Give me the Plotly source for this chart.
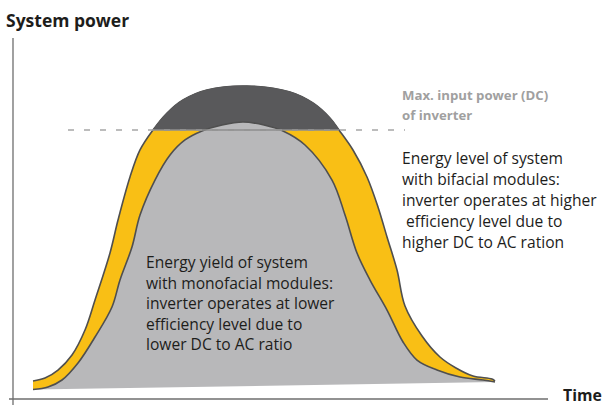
import plotly.graph_objects as go

# ---- data (time and power in % of the plot box) ----
bif_time = [3.74, 5.98, 8.41, 11.03, 13.46, 15.33, 18.13, 19.63, 21.87, 23.74, 26.17,
            28.79, 31.78, 36.26, 43.74, 51.78, 56.07, 59.25, 60.93, 63.55, 66.17,
            68.22, 69.91, 71.78, 73.27, 76.45, 79.81, 82.80, 85.98, 89.53, 90.09]
bif_power = [4.99, 5.82, 8.03, 12.19, 19.11, 27.42, 40.44, 49.58, 61.50, 68.98, 74.52,
             79.22, 82.83, 85.60, 86.70, 85.04, 81.99, 77.84, 74.52, 68.98, 61.50,
             53.19, 44.88, 35.73, 25.76, 17.45, 11.63, 8.59, 6.37, 5.54, 4.99]

mono_time = [3.74, 6.54, 9.16, 12.15, 15.33, 18.50, 20.00, 22.24, 23.74, 26.54, 29.35,
             32.15, 35.33, 39.07, 42.99, 46.92, 50.47, 54.58, 59.63, 62.06, 64.30,
             66.73, 69.91, 72.90, 75.51, 79.25, 83.55, 87.85, 90.09]
mono_power = [2.63, 3.32, 5.26, 9.97, 17.17, 25.48, 32.96, 42.11, 50.97, 60.66, 67.59,
              71.75, 74.24, 75.90, 76.73, 75.90, 74.24, 70.36, 60.66, 50.97, 40.44,
              32.96, 24.65, 15.79, 10.80, 8.03, 6.09, 5.26, 4.71]

base_time = [3.74, 90.09]
base_power = [2.63, 4.71]

max_dc_power = 74.52
max_dc_time = [10.28, 73.27]      # extent of the dashed line
max_dc_inside = [26.17, 60.93]    # where it crosses the bifacial curve

# ---- styles ----
YELLOW = "#f9bf15"
GRAY = "#b8b8ba"
DARK = "#59595b"
OUTLINE = "#4f4f4f"
DASH = "#a6a6a6"
TEXT = "#1d1d1b"
FONT = "Open Sans"

cap_time = [t for t, p in zip(bif_time, bif_power) if p >= max_dc_power]
cap_power = [p for p in bif_power if p >= max_dc_power]

spl = dict(shape="spline", smoothing=1)
fig = go.Figure()
# invisible monofacial curve: lower edge of the yellow band
fig.add_trace(go.Scatter(x=mono_time, y=mono_power, mode="lines",
                         line=dict(width=0, **spl), hoverinfo="skip"))
fig.add_trace(go.Scatter(x=bif_time, y=bif_power, mode="lines", fill="tonexty",
                         fillcolor=YELLOW, line=dict(color=OUTLINE, width=1.6, **spl),
                         hoverinfo="skip"))
fig.add_trace(go.Scatter(x=cap_time, y=cap_power, mode="lines", fill="toself",
                         fillcolor=DARK, line=dict(color=DARK, width=1, **spl),
                         hoverinfo="skip"))
fig.add_trace(go.Scatter(x=base_time, y=base_power, mode="lines",
                         line=dict(width=0), hoverinfo="skip"))
fig.add_trace(go.Scatter(x=mono_time, y=mono_power, mode="lines", fill="tonexty",
                         fillcolor=GRAY, line=dict(color=OUTLINE, width=1.6, **spl),
                         hoverinfo="skip"))
fig.add_trace(go.Scatter(x=max_dc_time, y=[max_dc_power] * 2, mode="lines",
                         line=dict(color=DASH, width=1.5, dash="6px,10px"), hoverinfo="skip"))
fig.add_trace(go.Scatter(x=max_dc_inside, y=[max_dc_power] * 2, mode="lines",
                         line=dict(color="#8e8e8e", width=1.5), hoverinfo="skip"))

# plot box in pixels: left 13, top 38, width 535, height 361
L, T, W, H = 13, 38, 535, 361
def px(x):
    return (x - L) / W
def py(y):
    return (T + H - y) / H

shapes = [
    dict(type="line", xref="paper", yref="paper", x0=px(13), x1=px(13), y0=py(405), y1=py(38),
         line=dict(color="#6e6e6e", width=1.3)),
    dict(type="line", xref="paper", yref="paper", x0=px(9), x1=px(548), y0=py(399), y1=py(399),
         line=dict(color="#6e6e6e", width=1.3)),
]

annotations = []
def add_text(text, x, y, size=15.6, color=TEXT, weight=400):
    annotations.append(dict(text=text, x=px(x), y=py(y),
                            xref="paper", yref="paper", xanchor="left", yanchor="middle",
                            showarrow=False,
                            font=dict(family=FONT, size=size, color=color, weight=weight),
                            borderpad=0))

add_text("System power", 5, 20, size=17.5, weight=700)
add_text("Time", 562, 395, size=15.8, weight=700)
for i, line in enumerate(["Max. input power (DC)", "of inverter"]):
    add_text(line, 401, 95 + 20 * i, size=13.2, color="#a0a0a0", weight=700)
for i, line in enumerate(["Energy level of system", "with bifacial modules:",
                          "inverter operates at higher", " efficiency level due to",
                          "higher DC to AC ration"]):
    add_text(line, 401, 158 + 21 * i)
for i, line in enumerate(["Energy yield of system", "with monofacial modules:",
                          "inverter operates at lower", "efficiency level due to",
                          "lower DC to AC ratio"]):
    add_text(line, 145, 262 + 20.5 * i)

fig.update_layout(
    width=605, height=406,
    margin=dict(l=L, r=605 - L - W, t=T, b=406 - T - H),
    paper_bgcolor="white", plot_bgcolor="white",
    showlegend=False,
    xaxis=dict(range=[0, 100], visible=False, fixedrange=True),
    yaxis=dict(range=[0, 100], visible=False, fixedrange=True),
    shapes=shapes, annotations=annotations,
)
fig.write_html("out.html", config={"displayModeBar": False},
               post_script="document.body.style.margin='0';")
